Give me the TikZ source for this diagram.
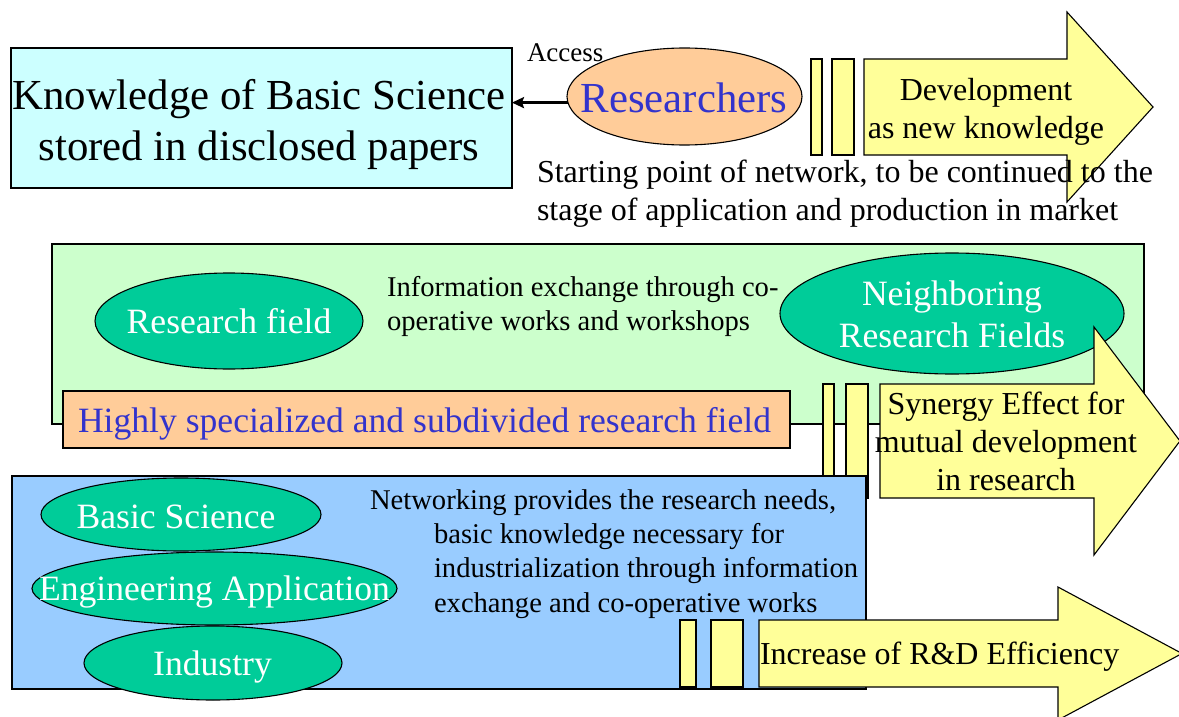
\documentclass[tikz,border=0pt]{standalone}
\usepackage{fontspec}
\setmainfont{Liberation Serif}
\usetikzlibrary{shapes.geometric,arrows.meta}
\definecolor{cyanbox}{HTML}{CCFFFF}
\definecolor{peach}{HTML}{FFCC99}
\definecolor{yel}{HTML}{FFFF99}
\definecolor{lgreen}{HTML}{CCFFCC}
\definecolor{tealfill}{HTML}{00CC99}
\definecolor{lblue}{HTML}{99CCFF}
\definecolor{tblue}{HTML}{3333CC}
\begin{document}
\begin{tikzpicture}[x=1pt,y=-1pt,
  f42/.style={font=\fontsize{42.8}{50.5}\selectfont},
  f35/.style={font=\fontsize{35.6}{42}\selectfont},
  f32/.style={font=\fontsize{32}{38}\selectfont},
  f28/.style={font=\fontsize{28.6}{34.3}\selectfont},
  f27/.style={font=\fontsize{27}{32}\selectfont},
  boxnode/.style={draw=black, line width=1.1pt, inner sep=0pt, outer sep=0pt, anchor=north west},
  ell/.style={ellipse, draw=black, line width=1.1pt, fill=tealfill, inner sep=0pt, outer sep=0pt},
  txt/.style={inner sep=0pt, outer sep=0pt},
  wtxt/.style={txt, text=white},
  bar/.style={draw=black, fill=yel, line width=1.1pt},
  bigarrow/.style={draw=black, fill=yel, line width=1.1pt, line join=miter},
  conn/.style={line width=2.4pt, -{Stealth[length=12pt,width=11pt,inset=2pt]}}
]
\useasboundingbox (0,0) rectangle (1179,717);

% ---------- top row ----------
\node[boxnode, fill=cyanbox, minimum width=501pt, minimum height=140pt] (kb) at (11,48) {};
\node[txt, f42, align=center] (kbtext) at (259,124.7) {Knowledge of Basic Science\\stored in disclosed papers};

\node[ellipse, draw=black, line width=1.1pt, fill=peach, inner sep=0pt, outer sep=0pt,
      minimum width=235pt, minimum height=97pt] (res) at (684.5,96.5) {};
\node[txt, f42, text=tblue, anchor=base] (restext) at (684,113) {Researchers};
\node[txt, f27, anchor=base west] (access) at (527,62) {Access};
\draw[conn] (res.183) -- (res.183 -| kb.east);

\draw[bar] (811,59) rectangle (822,155);
\draw[bar] (832,59) rectangle (854,155);
\draw[bigarrow] (864,59) -- (1067,59) -- (1067,12) -- (1153,107) -- (1067,202) -- (1067,155) -- (864,155) -- cycle;
\node[txt, f32, align=center] (dev) at (986,111.5) {Development\\as new knowledge};
\node[txt, f32, align=left, anchor=west] (start) at (537,193.5) {Starting point of network, to be continued to the\\stage of application and production in market};

% ---------- middle row ----------
\node[boxnode, fill=lgreen, minimum width=1092pt, minimum height=180pt] (green) at (52,244) {};
\node[ell, minimum width=268pt, minimum height=96pt] (rf) at (229,321) {};
\node[wtxt, f35, anchor=base] (rftext) at (229,333) {Research field};
\node[ell, minimum width=344pt, minimum height=121pt] (nrf) at (952,313.5) {};
\node[wtxt, f35, align=center] (nrftext) at (952,314.3) {Neighboring\\Research Fields};
\node[txt, f28, align=left, anchor=west] (info) at (387,306.5) {Information exchange through co-\\operative works and workshops};

\node[boxnode, fill=peach, minimum width=727pt, minimum height=57pt] (spec) at (63,391) {};
\node[txt, f35, text=tblue, anchor=base west] (spectext) at (78,432) {Highly specialized and subdivided research field};

\draw[bar] (823,384) rectangle (834,498);
\draw[bar] (846,384) rectangle (868,498);
\draw[bigarrow] (880,384) -- (1094,384) -- (1094,327) -- (1180,441) -- (1094,555) -- (1094,498) -- (880,498) -- cycle;
\node[txt, f32, align=center] (syn) at (1006,441.5) {Synergy Effect for\\mutual development\\in research};

% ---------- bottom row ----------
\node[boxnode, fill=lblue, minimum width=854pt, minimum height=213pt] (blue) at (12,476) {};
\node[ell, minimum width=280pt, minimum height=73pt] (bs) at (181,514.5) {};
\node[wtxt, f35, anchor=base] (bstext) at (176,528) {Basic Science};
\node[ell, minimum width=365pt, minimum height=73pt] (ea) at (214.5,588.5) {};
\node[wtxt, f35, anchor=base] (eatext) at (214.5,600) {Engineering Application};
\node[ell, minimum width=258pt, minimum height=74pt] (ind) at (213,663) {};
\node[wtxt, f35, anchor=base] (indtext) at (212.5,675) {Industry};
\node[txt, f28, align=left, anchor=west] (net) at (370,554) {Networking provides the research needs,\\\hspace*{64pt}basic knowledge necessary for\\\hspace*{64pt}industrialization through information\\\hspace*{64pt}exchange and co-operative works};

\draw[bar] (680,620) rectangle (696,687);
\draw[bar] (711,620) rectangle (743,687);
\draw[bigarrow] (759,620) -- (1058,620) -- (1058,587) -- (1182,653.5) -- (1058,720) -- (1058,687) -- (759,687) -- cycle;
\node[txt, f32, anchor=base west] (rd) at (760,664) {Increase of R\&D Efficiency};
\end{tikzpicture}
\end{document}
